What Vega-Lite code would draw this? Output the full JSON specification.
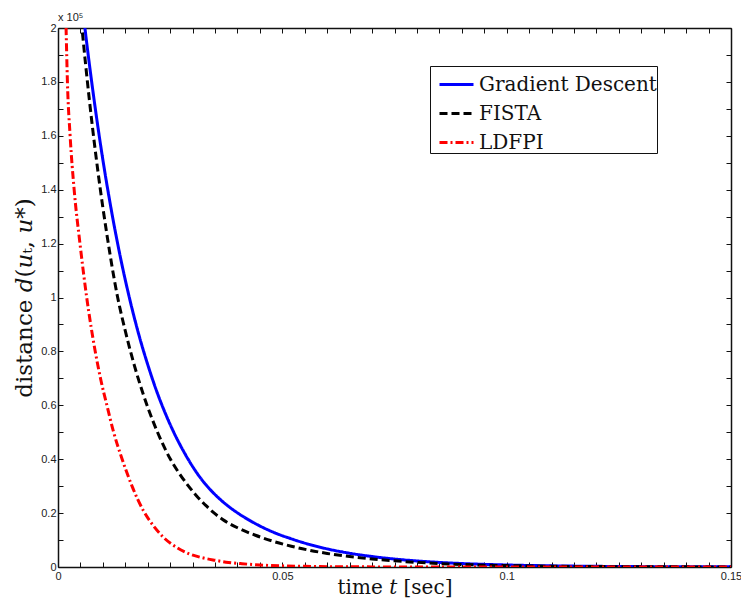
{
  "$schema": "https://vega.github.io/schema/vega-lite/v6.json",
  "width": 673,
  "height": 539,
  "autosize": "none",
  "padding": {"left": 58, "top": 28, "right": 10, "bottom": 39},
  "background": "white",
  "config": {
    "view": {"stroke": null},
    "axis": {"grid": false, "domainColor": "#111", "domainWidth": 1.5, "tickColor": "#111", "tickWidth": 1, "tickSize": -5, "labelFont": "Liberation Sans", "labelFontSize": 11, "labelColor": "#222", "titleFont": "DejaVu Serif", "titleFontSize": 20, "titleFontWeight": "normal", "titleColor": "#111"}
  },
  "data": {"values": [
    {"method": "Gradient Descent", "t": 0.004, "d": 2.3},
    {"method": "Gradient Descent", "t": 0.006, "d": 2.0},
    {"method": "Gradient Descent", "t": 0.008, "d": 1.739},
    {"method": "Gradient Descent", "t": 0.010, "d": 1.511},
    {"method": "Gradient Descent", "t": 0.012, "d": 1.314},
    {"method": "Gradient Descent", "t": 0.014, "d": 1.142},
    {"method": "Gradient Descent", "t": 0.016, "d": 0.993},
    {"method": "Gradient Descent", "t": 0.018, "d": 0.863},
    {"method": "Gradient Descent", "t": 0.020, "d": 0.751},
    {"method": "Gradient Descent", "t": 0.022, "d": 0.652},
    {"method": "Gradient Descent", "t": 0.024, "d": 0.567},
    {"method": "Gradient Descent", "t": 0.026, "d": 0.493},
    {"method": "Gradient Descent", "t": 0.028, "d": 0.429},
    {"method": "Gradient Descent", "t": 0.030, "d": 0.373},
    {"method": "Gradient Descent", "t": 0.032, "d": 0.325},
    {"method": "Gradient Descent", "t": 0.034, "d": 0.286},
    {"method": "Gradient Descent", "t": 0.036, "d": 0.253},
    {"method": "Gradient Descent", "t": 0.038, "d": 0.225},
    {"method": "Gradient Descent", "t": 0.040, "d": 0.201},
    {"method": "Gradient Descent", "t": 0.044, "d": 0.161},
    {"method": "Gradient Descent", "t": 0.048, "d": 0.129},
    {"method": "Gradient Descent", "t": 0.052, "d": 0.1046},
    {"method": "Gradient Descent", "t": 0.056, "d": 0.0839},
    {"method": "Gradient Descent", "t": 0.060, "d": 0.0673},
    {"method": "Gradient Descent", "t": 0.065, "d": 0.0511},
    {"method": "Gradient Descent", "t": 0.070, "d": 0.0389},
    {"method": "Gradient Descent", "t": 0.075, "d": 0.0295},
    {"method": "Gradient Descent", "t": 0.080, "d": 0.0224},
    {"method": "Gradient Descent", "t": 0.085, "d": 0.0170},
    {"method": "Gradient Descent", "t": 0.090, "d": 0.0129},
    {"method": "Gradient Descent", "t": 0.100, "d": 0.0075},
    {"method": "Gradient Descent", "t": 0.110, "d": 0.0043},
    {"method": "Gradient Descent", "t": 0.120, "d": 0.0025},
    {"method": "Gradient Descent", "t": 0.130, "d": 0.0014},
    {"method": "Gradient Descent", "t": 0.140, "d": 0.0008},
    {"method": "Gradient Descent", "t": 0.150, "d": 0.0005},
    {"method": "FISTA", "t": 0.004, "d": 2.25},
    {"method": "FISTA", "t": 0.00535, "d": 2.0},
    {"method": "FISTA", "t": 0.007, "d": 1.732},
    {"method": "FISTA", "t": 0.009, "d": 1.455},
    {"method": "FISTA", "t": 0.011, "d": 1.223},
    {"method": "FISTA", "t": 0.0133, "d": 1.0},
    {"method": "FISTA", "t": 0.015, "d": 0.876},
    {"method": "FISTA", "t": 0.017, "d": 0.749},
    {"method": "FISTA", "t": 0.019, "d": 0.641},
    {"method": "FISTA", "t": 0.021, "d": 0.5485},
    {"method": "FISTA", "t": 0.023, "d": 0.469},
    {"method": "FISTA", "t": 0.025, "d": 0.4015},
    {"method": "FISTA", "t": 0.027, "d": 0.348},
    {"method": "FISTA", "t": 0.029, "d": 0.302},
    {"method": "FISTA", "t": 0.031, "d": 0.262},
    {"method": "FISTA", "t": 0.033, "d": 0.2275},
    {"method": "FISTA", "t": 0.0347, "d": 0.2016},
    {"method": "FISTA", "t": 0.037, "d": 0.173},
    {"method": "FISTA", "t": 0.040, "d": 0.1456},
    {"method": "FISTA", "t": 0.044, "d": 0.1178},
    {"method": "FISTA", "t": 0.048, "d": 0.0952},
    {"method": "FISTA", "t": 0.052, "d": 0.077},
    {"method": "FISTA", "t": 0.056, "d": 0.0623},
    {"method": "FISTA", "t": 0.060, "d": 0.0504},
    {"method": "FISTA", "t": 0.065, "d": 0.0387},
    {"method": "FISTA", "t": 0.070, "d": 0.0297},
    {"method": "FISTA", "t": 0.075, "d": 0.0228},
    {"method": "FISTA", "t": 0.080, "d": 0.0173},
    {"method": "FISTA", "t": 0.085, "d": 0.0128},
    {"method": "FISTA", "t": 0.090, "d": 0.0095},
    {"method": "FISTA", "t": 0.100, "d": 0.0052},
    {"method": "FISTA", "t": 0.110, "d": 0.0029},
    {"method": "FISTA", "t": 0.120, "d": 0.0016},
    {"method": "FISTA", "t": 0.130, "d": 0.0009},
    {"method": "FISTA", "t": 0.150, "d": 0.0003},
    {"method": "LDFPI", "t": 0.0014, "d": 2.3},
    {"method": "LDFPI", "t": 0.0018, "d": 2.0},
    {"method": "LDFPI", "t": 0.0021, "d": 1.8},
    {"method": "LDFPI", "t": 0.0027, "d": 1.6},
    {"method": "LDFPI", "t": 0.0036, "d": 1.4},
    {"method": "LDFPI", "t": 0.0049, "d": 1.2},
    {"method": "LDFPI", "t": 0.0064, "d": 1.0},
    {"method": "LDFPI", "t": 0.0083, "d": 0.8},
    {"method": "LDFPI", "t": 0.0096, "d": 0.69},
    {"method": "LDFPI", "t": 0.0109, "d": 0.6},
    {"method": "LDFPI", "t": 0.0124, "d": 0.5},
    {"method": "LDFPI", "t": 0.0143, "d": 0.4},
    {"method": "LDFPI", "t": 0.0165, "d": 0.3},
    {"method": "LDFPI", "t": 0.019, "d": 0.21},
    {"method": "LDFPI", "t": 0.0215, "d": 0.148},
    {"method": "LDFPI", "t": 0.0239, "d": 0.104},
    {"method": "LDFPI", "t": 0.0265, "d": 0.072},
    {"method": "LDFPI", "t": 0.0291, "d": 0.05},
    {"method": "LDFPI", "t": 0.032, "d": 0.035},
    {"method": "LDFPI", "t": 0.035, "d": 0.025},
    {"method": "LDFPI", "t": 0.038, "d": 0.017},
    {"method": "LDFPI", "t": 0.041, "d": 0.0122},
    {"method": "LDFPI", "t": 0.045, "d": 0.0075},
    {"method": "LDFPI", "t": 0.05, "d": 0.0042},
    {"method": "LDFPI", "t": 0.055, "d": 0.0024},
    {"method": "LDFPI", "t": 0.06, "d": 0.0013},
    {"method": "LDFPI", "t": 0.07, "d": 0.0004},
    {"method": "LDFPI", "t": 0.08, "d": 0.0001},
    {"method": "LDFPI", "t": 0.1, "d": 0.0},
    {"method": "LDFPI", "t": 0.15, "d": 0.0}
  ]},
  "layer": [
    {
      "mark": {"type": "line", "clip": true, "strokeWidth": 3, "interpolate": "monotone"},
      "encoding": {
        "x": {"field": "t", "type": "quantitative", "scale": {"domain": [0, 0.15], "nice": false, "zero": false},
          "axis": {"orient": "bottom", "title": "time 𝑡 [sec]", "titlePadding": -4,
            "values": [0,0.005,0.01,0.015,0.02,0.025,0.03,0.035,0.04,0.045,0.05,0.055,0.06,0.065,0.07,0.075,0.08,0.085,0.09,0.095,0.1,0.105,0.11,0.115,0.12,0.125,0.13,0.135,0.14,0.145,0.15],
            "labelExpr": "abs(datum.value*20 - round(datum.value*20)) < 0.001 ? format(datum.value, '~g') : ''", "labelPadding": 8, "labelFlush": false}},
        "y": {"field": "d", "type": "quantitative", "scale": {"domain": [0, 2], "nice": false},
          "axis": {"orient": "left", "title": "distance 𝑑(𝑢ₜ, 𝑢*)", "titleFontSize": 23, "titlePadding": 4,
            "values": [0,0.1,0.2,0.3,0.4,0.5,0.6,0.7,0.8,0.9,1,1.1,1.2,1.3,1.4,1.5,1.6,1.7,1.8,1.9,2],
            "labelExpr": "abs(datum.value*5 - round(datum.value*5)) < 0.001 ? format(datum.value, '~g') : ''", "labelPadding": 7}},
        "color": {"field": "method", "type": "nominal", "scale": {"domain": ["Gradient Descent", "FISTA", "LDFPI"], "range": ["#0000ff", "#000000", "#ff0000"]},
          "legend": {"title": null, "orient": "none", "legendX": 372, "legendY": 38, "symbolType": "stroke", "symbolSize": 1156, "symbolStrokeWidth": 3, "symbolOffset": 8, "labelFont": "DejaVu Serif", "labelFontSize": 20, "labelLimit": 400, "labelColor": "#111", "labelOffset": 4, "rowPadding": -4.5, "strokeColor": "#111", "fillColor": "white", "padding": 0, "labelExpr": "datum.label + '\u00a0\u00a0\u00a0'"}},
        "strokeDash": {"field": "method", "type": "nominal", "scale": {"domain": ["Gradient Descent", "FISTA", "LDFPI"], "range": [[1, 0], [8, 4], [8, 3, 2, 3]]}, "legend": null}
      }
    },
    {
      "mark": {"type": "line", "strokeOpacity": 0},
      "encoding": {
        "x": {"field": "t", "type": "quantitative", "axis": {"orient": "top", "title": null, "labels": false,
          "values": [0,0.005,0.01,0.015,0.02,0.025,0.03,0.035,0.04,0.045,0.05,0.055,0.06,0.065,0.07,0.075,0.08,0.085,0.09,0.095,0.1,0.105,0.11,0.115,0.12,0.125,0.13,0.135,0.14,0.145,0.15]}},
        "y": {"field": "d", "type": "quantitative", "axis": {"orient": "right", "title": null, "labels": false,
          "values": [0,0.1,0.2,0.3,0.4,0.5,0.6,0.7,0.8,0.9,1,1.1,1.2,1.3,1.4,1.5,1.6,1.7,1.8,1.9,2]}},
        "detail": {"field": "method", "type": "nominal"}
      }
    },
    {
      "data": {"values": [{"label": "x 10⁵", "t": 0, "d": 2}]},
      "mark": {"type": "text", "align": "left", "baseline": "bottom", "dy": -5, "font": "Liberation Sans", "fontSize": 11, "color": "#222", "clip": false},
      "encoding": {
        "x": {"field": "t", "type": "quantitative", "axis": null},
        "y": {"field": "d", "type": "quantitative", "axis": null},
        "text": {"field": "label"}
      }
    }
  ],
  "resolve": {"axis": {"x": "independent", "y": "independent"}}
}
